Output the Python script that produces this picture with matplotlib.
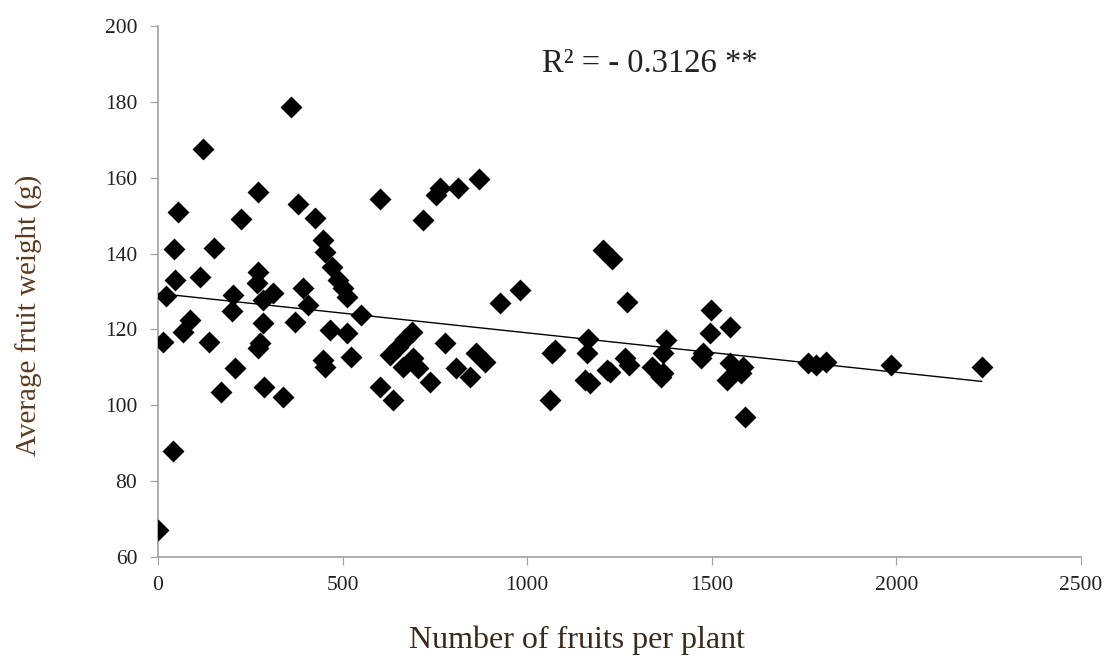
import matplotlib
matplotlib.use('Agg')
import matplotlib.pyplot as plt
import numpy as np

# fruits per plant vs average fruit weight
fruits = [1, 40, 14, 22, 46, 44, 55, 69, 87, 114, 121, 139, 152, 171, 200, 202, 208, 225,
          270, 267, 272, 285, 272, 276, 287, 285, 312, 339, 359, 380, 371, 393, 407, 425,
          448, 452, 470, 488, 502, 511, 466, 511, 524, 448, 452, 551, 601, 601, 637, 628,
          651, 669, 687, 691, 664, 705, 717, 737, 754, 763, 777, 808, 813, 845, 862, 885,
          870, 926, 980, 1061, 1066, 1075, 1156, 1161, 1165, 1170, 1206, 1230, 1224, 1215,
          1264, 1269, 1275, 1337, 1368, 1377, 1368, 1362, 1477, 1470, 1495, 1499, 1549,
          1549, 1540, 1585, 1580, 1590, 1761, 1783, 1810, 1986, 2231]
weight = [67, 88, 116.8, 128.8, 133, 141.1, 150.9, 119.4, 122.5, 133.9, 167.5, 116.8, 141.4,
          103.6, 124.9, 129.1, 109.8, 149, 135.2, 132.2, 156.2, 121.6, 115, 116.4, 104.9,
          127.8, 129.6, 102.3, 178.6, 153, 122, 130.9, 126.5, 149.5, 143.6, 140.5, 136.5,
          133, 130.9, 128.6, 119.9, 119, 112.8, 112, 110, 123.8, 104.9, 154.5, 101.4, 113.3,
          115.4, 117.6, 119.4, 112.4, 110.2, 109.8, 148.9, 106.2, 155.5, 157.2, 116.4, 109.8,
          157.2, 107.5, 113.7, 111.5, 159.6, 126.9, 130.4, 101.4, 113.7, 114.5, 106.7, 113.7,
          117.6, 106, 141, 138.5, 108.9, 109.3, 112.4, 127.3, 110.5, 110.2, 113.7, 117.2,
          108.4, 107.5, 113.7, 112.5, 119, 125.1, 120.7, 111.1, 106.7, 110.2, 108.5, 97,
          111.1, 110.6, 111.5, 110.6, 110]

trend_x = [0, 2231]
trend_y = [129.5, 106.3]

xticks = [0, 500, 1000, 1500, 2000, 2500]
yticks = [60, 80, 100, 120, 140, 160, 180, 200]

plt.rcParams['font.family'] = ['Liberation Serif', 'DejaVu Serif']

fig = plt.figure(figsize=(11.15, 6.62), dpi=100)
ax = fig.add_axes([0.1417, 0.1586, 0.8278, 0.8021])

ax.scatter(fruits, weight, marker='D', s=125, color='black', zorder=3, linewidths=0)
ax.plot(trend_x, trend_y, color='black', lw=1, zorder=2)

ax.set_xlim(0, 2500)
ax.set_ylim(60, 200)
ax.set_xticks(xticks)
ax.set_yticks(yticks)
ax.tick_params(labelsize=15.5, length=6, color='#a0a0a0', labelcolor='#222222')
ax.tick_params(axis='x', pad=8)
ax.tick_params(axis='y', pad=9)

for s in ['top', 'right']:
    ax.spines[s].set_visible(False)
for s in ['left', 'bottom']:
    ax.spines[s].set_color('#a0a0a0')
    ax.spines[s].set_linewidth(1.2)

ax.set_xlabel('Number of fruits per plant', fontsize=23, color='#3a2a1a')
ax.set_ylabel('Average fruit weight (g)', fontsize=21, color='#5b3b1e')
ax.xaxis.set_label_coords(0.454, -0.156)
ax.yaxis.set_label_coords(-0.139, 0.456)
ax.xaxis.label.set_va('center')
ax.yaxis.label.set_va('center')

ax.text(0.533, 0.928, 'R² = - 0.3126 **', transform=ax.transAxes, fontsize=23.5,
        ha='center', va='center', color='#222222')

fig.savefig('out.png', dpi=100)
